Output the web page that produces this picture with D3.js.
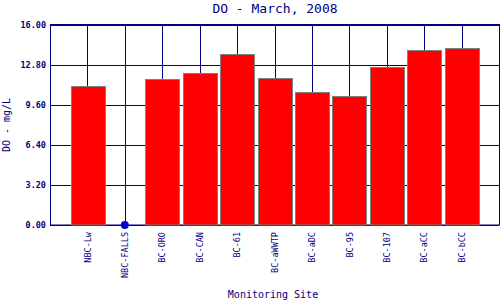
<!DOCTYPE html>
<html>
<head>
<meta charset="utf-8">
<script src="https://cdn.jsdelivr.net/npm/d3@7"></script>
<style>
  body { margin: 0; background: #fff; }
  text { font-family: "DejaVu Sans Mono", "Liberation Mono", monospace; fill: #000080; }
</style>
</head>
<body>
<svg id="chart" width="500" height="300"></svg>
<script>
// monitoring sites and DO readings (mg/L)
const sites = ["NBC-Lw", "NBC-FALLS", "BC-ORO", "BC-CAN", "BC-61", "BC-aWWTP", "BC-aDC", "BC-95", "BC-107", "BC-aCC", "BC-bCC"]
const doValues = [11.07, 0, 11.62, 12.10, 13.61, 11.70, 10.59, 10.27, 12.58, 13.93, 14.09]
const yTicks = [0, 3.2, 6.4, 9.6, 12.8, 16]

const svg = d3.select('#chart')
const plotL = 50, plotR = 499, plotT = 24.5, plotB = 225
const navy = '#000080'

let x = d3.scalePoint().domain(sites).range([plotL, plotR]).padding(1)
let y = d3.scaleLinear().domain([0, 16]).range([plotB, plotT])

// horizontal grid
svg.append('g')
    .attr('transform', `translate(${plotL},0)`)
    .call(d3.axisLeft(y).tickValues(yTicks).tickSize(-(plotR - plotL)).tickFormat(d3.format('.2f')))
    .call(g => g.select('.domain').remove())
    .call(g => g.selectAll('line').attr('stroke', navy).attr('shape-rendering', 'crispEdges'))
    .call(g => g.selectAll('text').attr('x', -4).attr('font-size', '8.5px').attr('font-weight', 'bold').attr('fill', navy))

// vertical grid
svg.append('g')
    .selectAll('line')
    .data(sites)
    .join('line')
    .attr('x1', d => Math.round(x(d)) + 0.5)
    .attr('x2', d => Math.round(x(d)) + 0.5)
    .attr('y1', plotT)
    .attr('y2', plotB)
    .attr('stroke', navy)

// plot frame
svg.append('rect')
    .attr('x', plotL + 0.5).attr('y', plotT)
    .attr('width', plotR - plotL).attr('height', plotB - plotT)
    .attr('fill', 'none').attr('stroke', navy)

const barW = x.step() * 0.9

svg.append('g')
    .selectAll('rect')
    .data(sites.map((s, i) => ({site: s, v: doValues[i]})).filter(d => d.v > 0))
    .join('rect')
    .attr('x', d => Math.round(x(d.site) - barW / 2) + 0.5)
    .attr('y', d => Math.round(y(d.v)) + 0.5)
    .attr('width', Math.round(barW))
    .attr('height', d => plotB - Math.round(y(d.v)) - 0.5)
    .attr('fill', '#ff0000')
    .attr('stroke', '#808080')
    .attr('stroke-width', 1)

// zero reading shown as a dot
svg.append('g')
    .selectAll('circle')
    .data(sites.map((s, i) => ({site: s, v: doValues[i]})).filter(d => d.v === 0))
    .join('circle')
    .attr('cx', d => x(d.site))
    .attr('cy', d => y(d.v))
    .attr('r', 4)
    .attr('fill', '#0000cc')

// x tick labels
svg.append('g')
    .attr('transform', `translate(0,${plotB})`)
    .call(d3.axisBottom(x).tickSize(0))
    .call(g => g.select('.domain').remove())
    .call(g => g.selectAll('text')
        .attr('transform', 'rotate(-90)')
        .attr('x', -7).attr('y', 0).attr('dy', '0.32em')
        .attr('text-anchor', 'end')
        .attr('font-size', '8.5px')
        .attr('fill', navy))

svg.append('text')
    .attr('x', 275).attr('y', 13)
    .attr('text-anchor', 'middle')
    .attr('font-size', '13px')
    .text('DO - March, 2008')

svg.append('text')
    .attr('x', 273).attr('y', 298)
    .attr('text-anchor', 'middle')
    .attr('font-size', '10px')
    .text('Monitoring Site')

svg.append('text')
    .attr('transform', 'translate(10,125) rotate(-90)')
    .attr('text-anchor', 'middle')
    .attr('font-size', '10px')
    .text('DO - mg/L')
</script>
</body>
</html>
